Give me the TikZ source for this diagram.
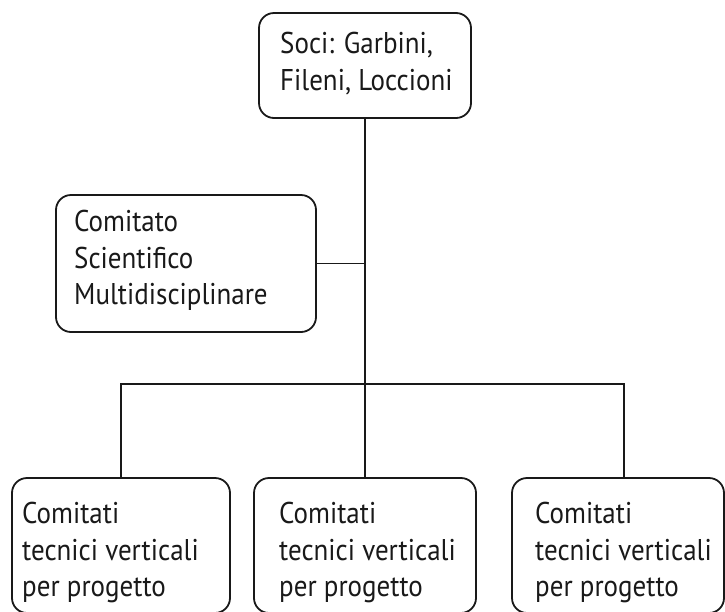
\documentclass[tikz,border=0pt]{standalone}
\usepackage{fontspec}
\setmainfont[FakeStretch=0.9]{PT Sans}
\begin{document}
\begin{tikzpicture}[x=1pt,y=-1pt,
  box/.style={draw=black!90, line width=1.8pt, rounded corners=15pt, inner sep=0pt},
  txt/.style={anchor=north west, inner sep=0pt, align=left, text=black!90,
    font=\fontsize{30}{36.5}\selectfont},
  conn/.style={draw=black!90, line width=1.8pt}]
\useasboundingbox (0,0) rectangle (725,611);
\begin{scope}
\clip (0,0) rectangle (725,611);
% boxes (explicit corners)
\node[box, minimum width=212pt, minimum height=105pt] (soci) at (365,65.5) {};
\node[box, minimum width=260pt, minimum height=137pt] (csm) at (186,263.5) {};
\node[box, minimum width=218pt, minimum height=135pt] (lb) at (121,545.5) {};
\node[box, minimum width=222pt, minimum height=135pt] (mb) at (365,545.5) {};
\node[box, minimum width=212pt, minimum height=135pt] (rb) at (618,545.5) {};
% texts
\node[txt] (tsoci) at (280,32) {Soci: Garbini,\\Fileni, Loccioni};
\node[txt] (tcsm) at (74,210) {Comitato\\Scientifico\\Multidisciplinare};
\node[txt] (tlb) at (22,502) {Comitati\\tecnici verticali\\per progetto};
\node[txt] (tmb) at (279,502) {Comitati\\tecnici verticali\\per progetto};
\node[txt] (trb) at (535,502) {Comitati\\tecnici verticali\\per progetto};
% connectors
\coordinate (j) at (365,384);
\coordinate (rt) at (624,384);
\draw[conn] (soci.south) -- (j);
\draw[conn] (csm.east) -- (csm.east -| j);
\draw[conn] (lb.north) |- (rt) -- (rt |- rb.north);
\draw[conn] (j) -- (mb.north);
\end{scope}
\end{tikzpicture}
\end{document}
